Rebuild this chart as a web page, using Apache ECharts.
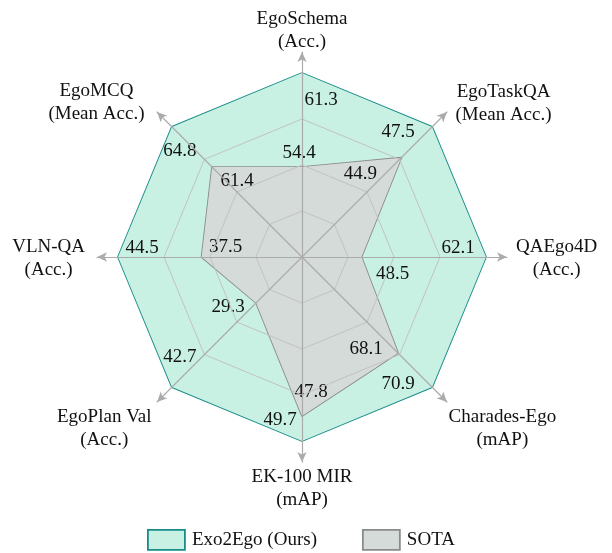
<!DOCTYPE html>
<html>
<head>
<meta charset="utf-8">
<script src="https://cdn.jsdelivr.net/npm/echarts@6/dist/echarts.min.js"></script>
<style>
  html, body { margin: 0; padding: 0; background: #ffffff; }
  #chart { width: 612px; height: 553px; }
</style>
</head>
<body>
<div id="chart"></div>
<script>
// axes in echarts radar order (counter-clockwise, starting at the top)
var categories = ['EgoSchema', 'EgoMCQ', 'VLN-QA', 'EgoPlan Val', 'EK-100 MIR', 'Charades-Ego', 'QAEgo4D', 'EgoTaskQA']
var units = ['(Acc.)', '(Mean Acc.)', '(Acc.)', '(Acc.)', '(mAP)', '(mAP)', '(Acc.)', '(Mean Acc.)']
var exoValues = [61.3, 64.8, 44.5, 42.7, 49.7, 70.9, 62.1, 47.5]
var sotaValues = [54.4, 61.4, 37.5, 29.3, 47.8, 68.1, 48.5, 44.9]
var axisMin = [47.8, 53.8, 29.1, 22.0, 35.7, 60.2, 42.0, 36.5]
var axisMax = [61.3, 64.8, 44.5, 42.7, 49.7, 70.9, 62.1, 47.5]

// label nudges (text centre relative to the vertex), pixels
var exoLabelOffset = [[19, 27], [8, 24], [24, -9], [8, -30], [-22, -21], [-34, -3], [-28, -9], [-34, 5]]
var sotaLabelOffset = [[-3, -14], [25, 14], [24, -10], [-28, 4], [9, -24], [-32, -4], [31, 17], [-41, 16]]
// axis name nudges: [dx, dy]
var nameOffset = [[0, 0], [-14, -11], [-14, 2], [-7, 28], [0, 6], [3, 28], [11, 2], [10, -10]]

var FONT = '"Liberation Serif", "Times New Roman", serif'
var TEAL = '#178c89'
var MINT = '#c8f1e3'
var GREY = '#8a8a8a'
var GREYFILL = '#d4dbd8'

function padFor(off) {
  var dx = off[0], dy = off[1]
  return [Math.max(0, 2 * dy), Math.max(0, -2 * dx), Math.max(0, -2 * dy), Math.max(0, 2 * dx)]
}

var valueRich = {}
for (var i = 0; i < categories.length; i++) {
  valueRich['e' + i] = { fontSize: 19, lineHeight: 22, fontFamily: FONT, color: '#111', align: 'center', padding: padFor(exoLabelOffset[i]) }
  valueRich['s' + i] = { fontSize: 19, lineHeight: 22, fontFamily: FONT, color: '#111', align: 'center', padding: padFor(sotaLabelOffset[i]) }
}

var nameRich = {}
for (var j = 0; j < categories.length; j++) {
  var dx = nameOffset[j][0], dy = nameOffset[j][1]
  nameRich['n' + j] = {
    fontSize: 19, lineHeight: 23, fontFamily: FONT, color: '#111', align: 'center',
    padding: [Math.max(0, 2 * dy), Math.max(0, -dx), Math.max(0, -2 * dy), Math.max(0, dx)]
  }
}

var gridIndicator = []
var nameIndicator = []
for (var k = 0; k < categories.length; k++) {
  gridIndicator.push({ name: categories[k], min: axisMin[k], max: axisMax[k] })
  nameIndicator.push({ name: categories[k], min: 0, max: 1 })
}

var myChart = echarts.init(document.getElementById('chart'))
var option = {
  backgroundColor: '#ffffff',
  animation: false,
  legend: {
    left: 142,
    top: 524,
    itemWidth: 37,
    itemHeight: 20,
    itemGap: 45,
    icon: 'rect',
    textStyle: { fontSize: 19, fontFamily: FONT, color: '#111', padding: [0, 0, 0, 2] },
    data: [
      { name: 'Exo2Ego (Ours)', itemStyle: { color: MINT, borderColor: TEAL, borderWidth: 1.8 } },
      { name: 'SOTA', itemStyle: { color: GREYFILL, borderColor: GREY, borderWidth: 1.8 } }
    ]
  },
  radar: [
    {
      // rings
      center: [302, 257],
      radius: 184,
      startAngle: 90,
      shape: 'polygon',
      splitNumber: 4,
      z: 3,
      indicator: gridIndicator,
      axisName: { show: false },
      axisLine: { show: false },
      splitArea: { show: false },
      splitLine: { lineStyle: { color: ['#c2c2c2', '#c2c2c2', '#c2c2c2', '#c2c2c2', 'rgba(0,0,0,0)'], width: 1 } }
    },
    {
      // arrows and axis names
      center: [302, 257],
      radius: 205,
      startAngle: 90,
      shape: 'polygon',
      z: 3,
      indicator: nameIndicator,
      nameGap: -2,
      axisName: {
        color: '#111',
        fontSize: 19,
        fontFamily: FONT,
        rich: nameRich,
        formatter: function(name) {
          var idx = categories.indexOf(name)
          return '{n' + idx + '|' + name + '}\n{n' + idx + '|' + units[idx] + '}'
        }
      },
      axisLine: {
        lineStyle: { color: '#ababab', width: 1.2 },
        symbol: ['none', 'arrow'],
        symbolSize: [7, 10]
      },
      splitLine: { show: false },
      splitArea: { show: false }
    }
  ],
  series: [
    {
      type: 'radar',
      radarIndex: 0,
      z: 2,
      symbol: 'circle',
      symbolSize: 0,
      label: {
        show: true,
        position: 'inside',
        color: '#111',
        fontSize: 19,
        fontFamily: FONT,
        rich: valueRich,
        formatter: function(p) {
          var vals = p.dataIndex === 0 ? exoValues : sotaValues
          var key = p.dataIndex === 0 ? 'e' : 's'
          var idx = vals.indexOf(p.value)
          return '{' + key + idx + '|' + Number(p.value).toFixed(1) + '}'
        }
      },
      data: [
        {
          name: 'Exo2Ego (Ours)',
          value: exoValues,
          itemStyle: { color: TEAL },
          lineStyle: { color: TEAL, width: 1.8 },
          areaStyle: { color: MINT, opacity: 1 }
        },
        {
          name: 'SOTA',
          value: sotaValues,
          itemStyle: { color: GREY },
          lineStyle: { color: GREY, width: 1.8 },
          areaStyle: { color: GREYFILL, opacity: 1 }
        }
      ]
    }
  ]
}
myChart.setOption(option)
window.addEventListener('resize', function() {
  myChart.resize()
})
</script>
</body>
</html>
